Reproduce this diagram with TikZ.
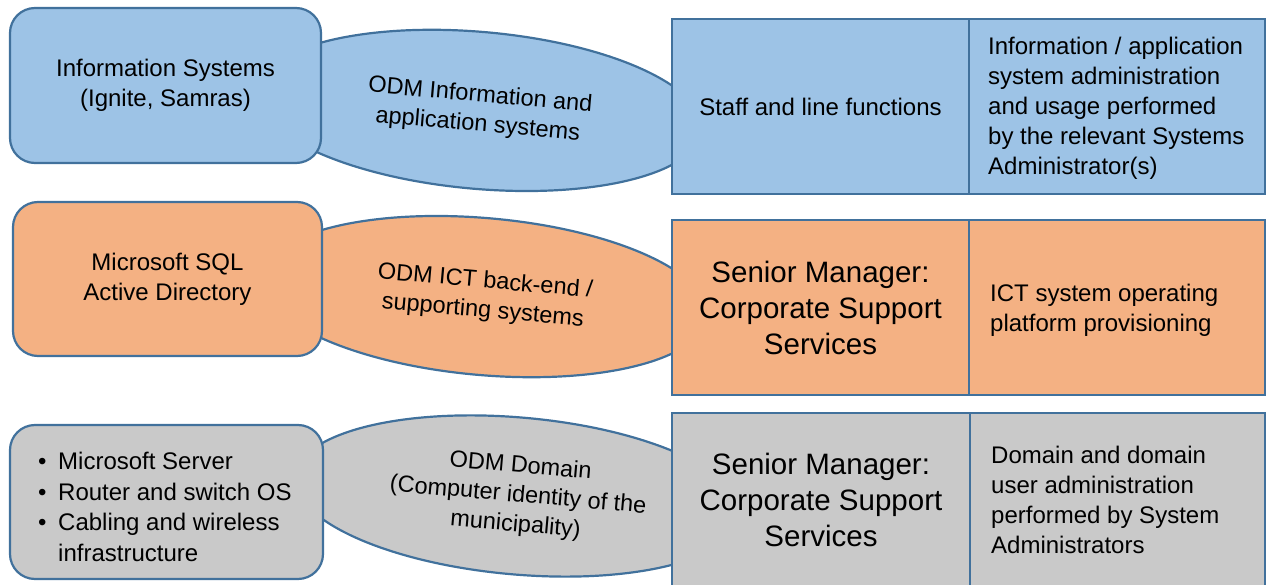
\documentclass[tikz,border=0pt]{standalone}
\usepackage{fontspec}
\setmainfont{Liberation Sans}
\usetikzlibrary{shapes.geometric}
\definecolor{bfill}{HTML}{9DC3E6}
\definecolor{ofill}{HTML}{F4B183}
\definecolor{gfill}{HTML}{C9C9C9}
\definecolor{bord}{HTML}{41719C}
\newcommand{\fsn}{\fontsize{24}{30}\selectfont}
\newcommand{\fsb}{\fontsize{29.5}{36}\selectfont}
\newcommand{\fse}{\fontsize{23.5}{29.5}\selectfont}
\begin{document}
\begin{tikzpicture}[x=1pt,y=-1pt,
  base/.style={draw=bord, line width=2.2pt},
  oval/.style={base, ellipse, inner sep=0pt, minimum width=448pt, minimum height=157pt, rotate=-5, align=center, font=\fse},
  rbox/.style={base, rounded corners=25pt, inner sep=0pt, align=center, font=\fsn},
  cell/.style={base, rectangle, inner sep=0pt, align=center, minimum height=175pt},
  lbl/.style={anchor=west, inner sep=0pt, align=left, font=\fsn}]
\useasboundingbox (0,0) rectangle (1266,585);
\begin{scope}
\clip (0,0) rectangle (1266,585);
% ovals
\node[oval, fill=bfill] (e1) at (479,110.4) {ODM Information and\\application systems};
\node[oval, fill=ofill] (e2) at (484,296.6) {ODM ICT back-end /\\supporting systems};
\node[oval, fill=gfill] (e3) at (518,496) {ODM Domain\\(Computer identity of the\\municipality)};
% left rounded boxes
\node[rbox, fill=bfill, minimum width=311pt, minimum height=155pt] (r1) at (165.5,85.5) {Information Systems\\(Ignite, Samras)};
\node[rbox, fill=ofill, minimum width=309pt, minimum height=154pt] (r2) at (167.5,279) {Microsoft SQL\\Active Directory};
\node[rbox, fill=gfill, minimum width=313pt, minimum height=154pt] (r3) at (166.5,502) {};
\node[lbl, font=\fontsize{24}{30.7}\selectfont] (r3t) at (38,507) {\makebox[20pt][l]{•}Microsoft Server\\\makebox[20pt][l]{•}Router and switch OS\\\makebox[20pt][l]{•}Cabling and wireless\\\hspace*{20pt}infrastructure};
% right cells
\node[cell, fill=bfill, minimum width=297pt, font=\fsn] (c1a) at (820.5,106.5) {Staff and line functions};
\node[cell, fill=bfill, minimum width=296pt] (c1b) at (1117,106.5) {};
\node[lbl] (t1) at (988,108) {Information / application\\system administration\\and usage performed\\by the relevant Systems\\Administrator(s)};
\node[cell, fill=ofill, minimum width=297pt, font=\fsb] (c2a) at (820.5,307.5) {Senior Manager:\\Corporate Support\\Services};
\node[cell, fill=ofill, minimum width=296pt] (c2b) at (1117,307.5) {};
\node[lbl] (t2) at (990,310) {ICT system operating\\platform provisioning};
\node[cell, fill=gfill, minimum width=298pt, minimum height=174pt, font=\fsb] (c3a) at (821,500) {Senior Manager:\\Corporate Support\\Services};
\node[cell, fill=gfill, minimum width=295pt, minimum height=174pt] (c3b) at (1117.5,500) {};
\node[lbl] (t3) at (991,500) {Domain and domain\\user administration\\performed by System\\Administrators};
\end{scope}
\end{tikzpicture}
\end{document}
